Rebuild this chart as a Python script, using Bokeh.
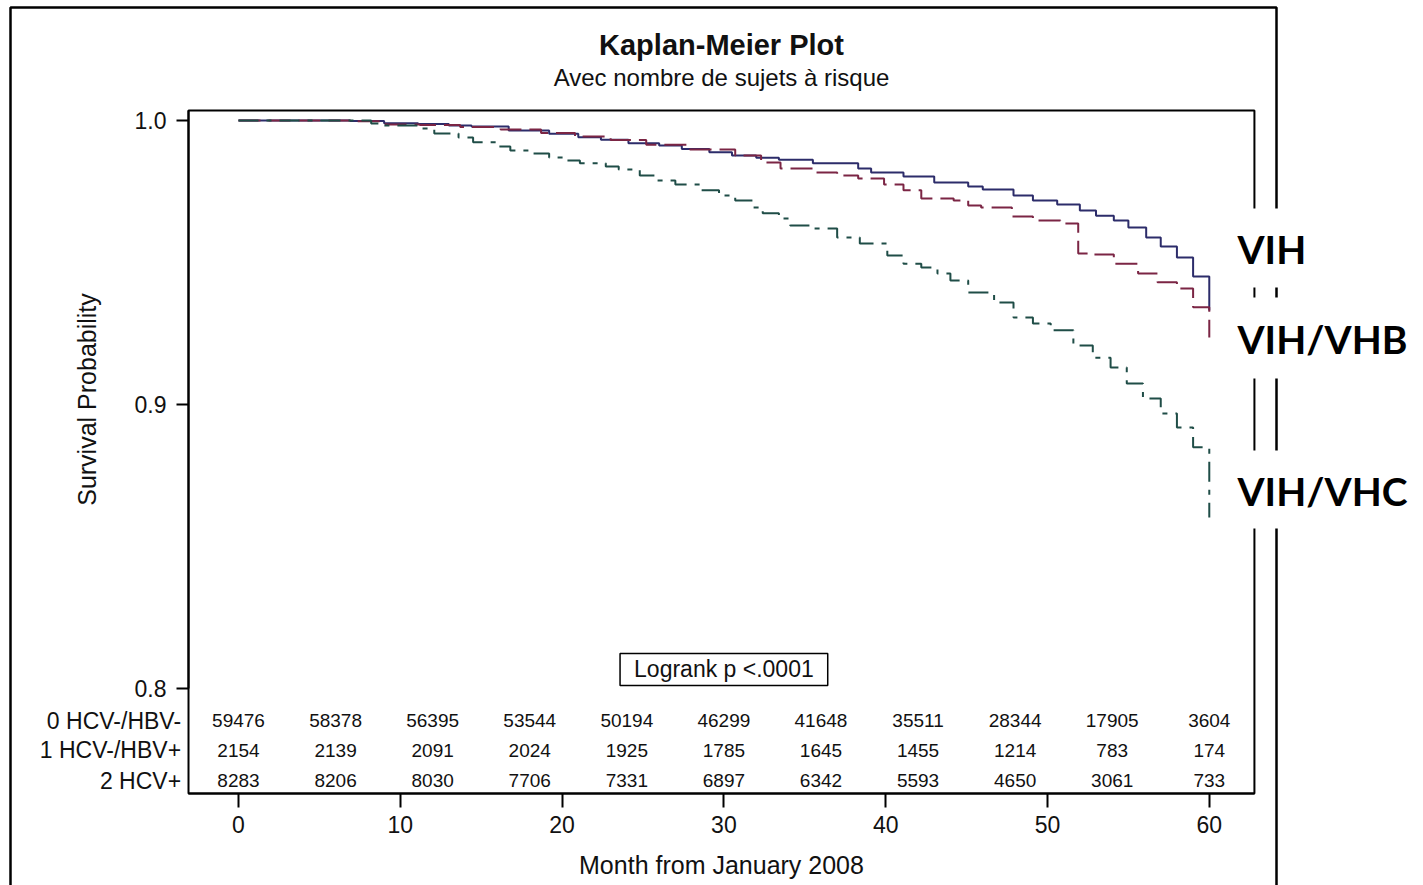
from bokeh.plotting import figure
from bokeh.models import Range1d, FixedTicker, Label, BoxAnnotation, NumeralTickFormatter, ColumnDataSource
from bokeh.core.properties import value
from bokeh.embed import file_html
from bokeh.resources import INLINE

# ---- Kaplan-Meier estimates: month of each step and survival after it ----
vih_t = [0, 6.9, 9.0, 11.1, 13.0, 14.4, 16.7, 19.2, 21.0, 22.4, 24.1, 26.0, 27.4, 29.1, 30.5,
         32.0, 33.4, 35.5, 38.3, 39.1, 41.1, 43.0, 45.1, 46.0, 47.9, 49.1, 50.6, 52.0, 53.0,
         54.1, 55.0, 56.1, 57.0, 58.0, 59.0, 60.0]
vih_s = [1.0, 0.9998, 0.9990, 0.9988, 0.9982, 0.9979, 0.9965, 0.9953, 0.9941, 0.9932, 0.9920,
         0.9912, 0.9900, 0.9888, 0.9877, 0.9869, 0.9862, 0.9849, 0.9831, 0.9817, 0.9803, 0.9782,
         0.9768, 0.9757, 0.9736, 0.9718, 0.9704, 0.9683, 0.9665, 0.9648, 0.9623, 0.9588, 0.9556,
         0.9518, 0.9451, 0.9331]

vhb_t = [0, 7.0, 9.1, 11.2, 13.7, 16.2, 18.7, 20.8, 23.0, 25.2, 27.9, 30.7, 32.3, 33.5, 35.5,
         37.0, 38.3, 39.9, 41.1, 42.2, 44.2, 45.1, 45.9, 47.8, 49.1, 50.8, 51.9, 52.7, 54.1,
         55.6, 56.8, 58.0, 59.0, 60.0]
vhb_s = [1.0, 0.9997, 0.9986, 0.9984, 0.9977, 0.9968, 0.9956, 0.9944, 0.9931, 0.9915, 0.9898,
         0.9877, 0.9852, 0.9831, 0.9817, 0.9806, 0.9796, 0.9775, 0.9754, 0.9725, 0.9718, 0.9701,
         0.9694, 0.9662, 0.9648, 0.9637, 0.9532, 0.9528, 0.9496, 0.9461, 0.9430, 0.9408, 0.9342,
         0.9236]

vhc_t = [0, 8.2, 9.0, 11.2, 12.1, 13.6, 14.5, 16.1, 16.8, 18.0, 19.2, 20.1, 21.1, 22.7, 23.5,
         24.8, 25.8, 27.0, 28.6, 29.7, 30.7, 31.8, 32.4, 33.4, 34.1, 35.4, 37.0, 38.4, 40.1,
         41.1, 42.2, 43.2, 44.0, 45.1, 46.7, 47.9, 49.1, 50.2, 51.6, 52.8, 53.9, 54.9, 55.9,
         57.0, 58.0, 59.0, 60.0]
vhc_s = [1.0, 0.9989, 0.9982, 0.9972, 0.9954, 0.9940, 0.9923, 0.9908, 0.9894, 0.9884, 0.9870,
         0.9859, 0.9849, 0.9838, 0.9827, 0.9806, 0.9789, 0.9775, 0.9754, 0.9736, 0.9718, 0.9694,
         0.9673, 0.9655, 0.9630, 0.9620, 0.9588, 0.9567, 0.9525, 0.9496, 0.9482, 0.9461, 0.9437,
         0.9394, 0.9359, 0.9306, 0.9285, 0.9261, 0.9208, 0.9165, 0.9130, 0.9074, 0.9021, 0.8968,
         0.8919, 0.8849, 0.8602]

# ---- number at risk ----
risk_months = [0, 6, 12, 18, 24, 30, 36, 42, 48, 54, 60]
risk_groups = ["0 HCV-/HBV-", "1 HCV-/HBV+", "2 HCV+"]
risk_hbv_neg = [59476, 58378, 56395, 53544, 50194, 46299, 41648, 35511, 28344, 17905, 3604]
risk_hbv_pos = [2154, 2139, 2091, 2024, 1925, 1785, 1645, 1455, 1214, 783, 174]
risk_hcv_pos = [8283, 8206, 8030, 7706, 7331, 6897, 6342, 5593, 4650, 3061, 733]

x_ticks = [0, 10, 20, 30, 40, 50, 60]
y_ticks = [0.8, 0.9, 1.0]
curve_names = ["VIH", "VIH/VHB", "VIH/VHC"]

# ---- layout ----
FONT = "Liberation Sans"
# whole canvas in data units, and the plotting box drawn inside it
VIEW_X = (-14.71, 73.24)
VIEW_Y = (0.73063, 1.04225)
BOX_X = (-3.09, 62.79)
BOX_Y = (0.76303, 1.00352)
row_y = [0.7887, 0.7782, 0.7676]          # vertical slots of the at-risk rows
row_label_x = -3.55

p = figure(frame_width=1423, frame_height=885,
           x_range=Range1d(*VIEW_X), y_range=Range1d(*VIEW_Y),
           min_border=0, output_backend="svg", toolbar_location=None)
p.background_fill_color = "white"
p.border_fill_color = "white"
p.outline_line_color = None
p.xgrid.visible = False
p.ygrid.visible = False

# plotting box
p.add_layout(BoxAnnotation(left=BOX_X[0], right=BOX_X[1], bottom=BOX_Y[0], top=BOX_Y[1],
                           fill_alpha=0, line_color="black", line_alpha=1, line_width=2,
                           level="underlay"))

xa = p.xaxis[0]
xa.fixed_location = BOX_Y[0]
xa.bounds = BOX_X
xa.ticker = FixedTicker(ticks=x_ticks)
xa.axis_label = "Month from January 2008"
ya = p.yaxis[0]
ya.fixed_location = BOX_X[0]
ya.bounds = (y_ticks[0], BOX_Y[1])
ya.ticker = FixedTicker(ticks=y_ticks)
ya.formatter = NumeralTickFormatter(format="0.0")
ya.axis_label = "Survival Probability"
for ax, tick_out, lab_off, axlab_off in ((xa, 14, 9, 14), (ya, 12, 10, 31)):
    ax.axis_line_color = "black"
    ax.axis_line_width = 2
    ax.major_tick_in = 0
    ax.major_tick_out = tick_out
    ax.major_tick_line_width = 2
    ax.minor_tick_line_color = None
    ax.major_label_standoff = lab_off
    ax.major_label_text_font = FONT
    ax.major_label_text_font_size = "23px"
    ax.major_label_text_color = "#111111"
    ax.axis_label_standoff = axlab_off
    ax.axis_label_text_font = FONT
    ax.axis_label_text_font_size = "25px"
    ax.axis_label_text_font_style = "normal"
    ax.axis_label_text_color = "#111111"

# ---- survival curves ----
curves = [
    (vih_t, vih_s, "#2c2c6a", "solid"),
    (vhb_t, vhb_s, "#7b2544", "22 8"),
    (vhc_t, vhc_s, "#1f4d47", "20 8 5 8"),
]
for t, s, color, dash in curves:
    src = ColumnDataSource(dict(t=t, s=s))
    p.step(x="t", y="s", source=src, mode="after", line_color=color, line_width=2,
           line_dash=dash)

# ---- numbers at risk ----
for counts, y in zip((risk_hbv_neg, risk_hbv_pos, risk_hcv_pos), row_y):
    src = ColumnDataSource(dict(x=risk_months, y=[y] * len(risk_months),
                                txt=[str(c) for c in counts]))
    p.text(x="x", y="y", text="txt", source=src, text_align="center",
           text_baseline="middle", text_font=value(FONT), text_font_size="19px",
           text_color="#111111")
for name, y in zip(risk_groups, row_y):
    p.add_layout(Label(x=row_label_x, y=y, text=name, text_align="right", text_baseline="middle",
                       text_font=FONT, text_font_size="23px", text_color="#111111"))

# ---- inset with the test result ----
p.add_layout(Label(x=30, y=0.8067, text="Logrank p <.0001", text_align="center",
                   text_baseline="middle", text_font=FONT, text_font_size="23px",
                   text_color="#111111", border_line_color="black", border_line_width=1.5,
                   background_fill_color="white", padding=(14, 3)))

# ---- titles ----
p.add_layout(Label(x=721, y=44, x_units="canvas", y_units="canvas", text="Kaplan-Meier Plot",
                   text_align="center", text_baseline="middle", text_font=FONT,
                   text_font_size="29px", text_font_style="bold", text_color="#111111"))
p.add_layout(Label(x=721, y=77, x_units="canvas", y_units="canvas",
                   text="Avec nombre de sujets à risque", text_align="center",
                   text_baseline="middle", text_font=FONT, text_font_size="24px",
                   text_color="#111111"))

# ---- outer frame ----
p.add_layout(BoxAnnotation(left=10, right=1276, top=7, bottom=900, left_units="canvas",
                           right_units="canvas", top_units="canvas", bottom_units="canvas",
                           fill_alpha=0, line_color="black", line_alpha=1, line_width=2.5))

# ---- curve names at the right ----
name_boxes = [(208, 287), (297, 378), (450, 528)]
for name, (top, bottom) in zip(curve_names, name_boxes):
    p.add_layout(BoxAnnotation(left=1225, right=1423, top=top, bottom=bottom,
                               left_units="canvas", right_units="canvas", top_units="canvas",
                               bottom_units="canvas", fill_color="white", fill_alpha=1,
                               line_color=None))
    p.add_layout(Label(x=1237, y=(top + bottom) / 2 + 1, x_units="canvas", y_units="canvas",
                       text=name, text_align="left", text_baseline="middle", text_font="Lato",
                       text_font_size="39px", text_font_style="bold", text_color="black"))

open("out.html", "w").write(file_html(p, INLINE))
